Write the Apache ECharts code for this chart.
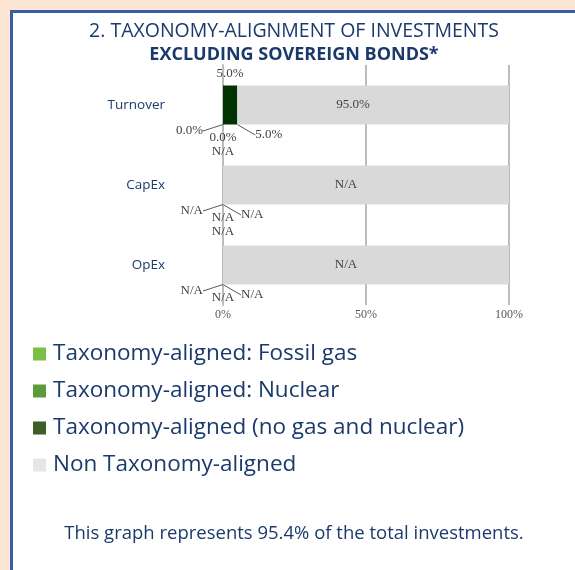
<!DOCTYPE html>
<html>
<head>
<meta charset="utf-8">
<script src="https://cdn.jsdelivr.net/npm/echarts@6/dist/echarts.min.js"></script>
<style>
  html, body { margin: 0; padding: 0; background: #fde5d5; }
  .frame {
    position: absolute; left: 10px; top: 10px;
    width: 565px; height: 560px;
    border-left: 3px solid #3b5c9e; border-top: 3px solid #3b5c9e;
    background: #fff;
  }
  #chart { width: 562px; height: 557px; }
</style>
</head>
<body>
<div class="frame"><div id="chart"></div></div>
<script>
// categories (top to bottom)
const categories = ['Turnover', 'CapEx', 'OpEx']

// series values (%), N/A drawn as 0
const gasValues = [0, 0, 0]
const nuclearValues = [0, 0, 0]
const alignedValues = [5, 0, 0]
const nonAlignedValues = [95, 100, 100]

// data label texts
const gasLabels = ['0.0%', 'N/A', 'N/A']
const nuclearLabels = ['0.0%', 'N/A', 'N/A']
const alignedLabels = ['5.0%', 'N/A', 'N/A']
const nonAlignedLabels = ['95.0%', 'N/A', 'N/A']
const totalLabels = ['5.0%', '', '']
const extraLabels = ['N/A', 'N/A', '']

const tickValues = [0, 50, 100]

const navy = '#1b3a6b'
const labelFont = { fontFamily: 'Liberation Serif', fontSize: 13, color: '#404040' }

const chart = echarts.init(document.getElementById('chart'))

const option = {
  animation: false,
  title: [
    {
      text: '2. TAXONOMY-ALIGNMENT OF INVESTMENTS\n{b|EXCLUDING SOVEREIGN BONDS*}',
      left: 'center',
      top: 2,
      textStyle: {
        fontFamily: 'Open Sans',
        fontSize: 19.5,
        fontWeight: 'normal',
        color: navy,
        lineHeight: 23,
        rich: {
          b: { fontFamily: 'Open Sans', fontSize: 18, fontWeight: 'bold', color: navy, lineHeight: 23 }
        }
      }
    },
    {
      text: 'This graph represents 95.4% of the total investments.',
      left: 'center',
      top: 506,
      textStyle: { fontFamily: 'Open Sans', fontSize: 18.5, fontWeight: 'normal', color: navy }
    }
  ],
  legend: {
    orient: 'vertical',
    left: 15,
    top: 324,
    itemWidth: 13,
    itemHeight: 13,
    itemGap: 13,
    icon: 'rect',
    selectedMode: false,
    textStyle: { fontFamily: 'Open Sans', fontSize: 22.5, lineHeight: 24, color: navy, padding: [0, 0, 0, 2] },
    data: [
      { name: 'Taxonomy-aligned: Fossil gas', itemStyle: { color: '#78c144' } },
      { name: 'Taxonomy-aligned: Nuclear', itemStyle: { color: '#5c9b3b' } },
      { name: 'Taxonomy-aligned (no gas and nuclear)', itemStyle: { color: '#3b5f26' } },
      { name: 'Non Taxonomy-aligned', itemStyle: { color: '#e6e6e6' } }
    ]
  },
  grid: { left: 210, right: 66, top: 52, height: 240 },
  xAxis: {
    type: 'value',
    min: 0,
    max: 100,
    interval: 50,
    axisLine: { show: false },
    axisTick: { show: false },
    axisLabel: {
      margin: 4,
      ...labelFont,
      fontSize: 12,
      color: '#595959',
      formatter: (v) => (tickValues.includes(v) ? v + '%' : '')
    },
    splitLine: { show: true, lineStyle: { color: '#bcbcbc', width: 2 } }
  },
  yAxis: {
    type: 'category',
    inverse: true,
    data: categories,
    axisLine: { show: true, lineStyle: { color: '#bcbcbc', width: 2 } },
    axisTick: { show: false },
    axisLabel: { margin: 58, fontFamily: 'Open Sans', fontSize: 13.5, color: navy }
  },
  series: [
    {
      name: 'extra',
      type: 'bar',
      stack: 'a',
      barWidth: 39,
      data: gasValues,
      itemStyle: { color: 'transparent' },
      label: {
        show: true,
        position: 'bottom',
        distance: 21,
        ...labelFont,
        formatter: (p) => extraLabels[p.dataIndex]
      }
    },
    {
      name: 'Taxonomy-aligned: Fossil gas',
      type: 'bar',
      stack: 'a',
      barWidth: 39,
      data: gasValues,
      itemStyle: { color: '#78c144' },
      label: {
        show: true,
        position: 'left',
        distance: 20,
        ...labelFont,
        formatter: (p) => gasLabels[p.dataIndex]
      },
      labelLayout: { dy: 26 },
      labelLine: { show: true, lineStyle: { color: '#595959', width: 1 } }
    },
    {
      name: 'Taxonomy-aligned: Nuclear',
      type: 'bar',
      stack: 'a',
      barWidth: 39,
      data: nuclearValues,
      itemStyle: { color: '#5c9b3b' },
      label: {
        show: true,
        position: 'bottom',
        distance: 7,
        ...labelFont,
        formatter: (p) => nuclearLabels[p.dataIndex]
      }
    },
    {
      name: 'Taxonomy-aligned (no gas and nuclear)',
      type: 'bar',
      stack: 'a',
      barWidth: 39,
      data: alignedValues,
      itemStyle: { color: '#003300' },
      label: {
        show: true,
        position: 'right',
        distance: 18,
        ...labelFont,
        formatter: (p) => alignedLabels[p.dataIndex]
      },
      labelLayout: { dy: 30 },
      labelLine: { show: true, lineStyle: { color: '#595959', width: 1 } }
    },
    {
      name: 'Non Taxonomy-aligned',
      type: 'bar',
      stack: 'a',
      barWidth: 39,
      data: nonAlignedValues,
      itemStyle: { color: '#d9d9d9' },
      label: {
        show: true,
        position: 'inside',
        offset: [-20, 0],
        ...labelFont,
        formatter: (p) => nonAlignedLabels[p.dataIndex]
      }
    },
    {
      name: 'total',
      type: 'bar',
      stack: 'b',
      barWidth: 39,
      barGap: '-100%',
      data: alignedValues,
      itemStyle: { color: 'transparent' },
      label: {
        show: true,
        position: 'top',
        distance: 5,
        ...labelFont,
        formatter: (p) => totalLabels[p.dataIndex]
      }
    }
  ]
}

chart.setOption(option)
</script>
</body>
</html>
